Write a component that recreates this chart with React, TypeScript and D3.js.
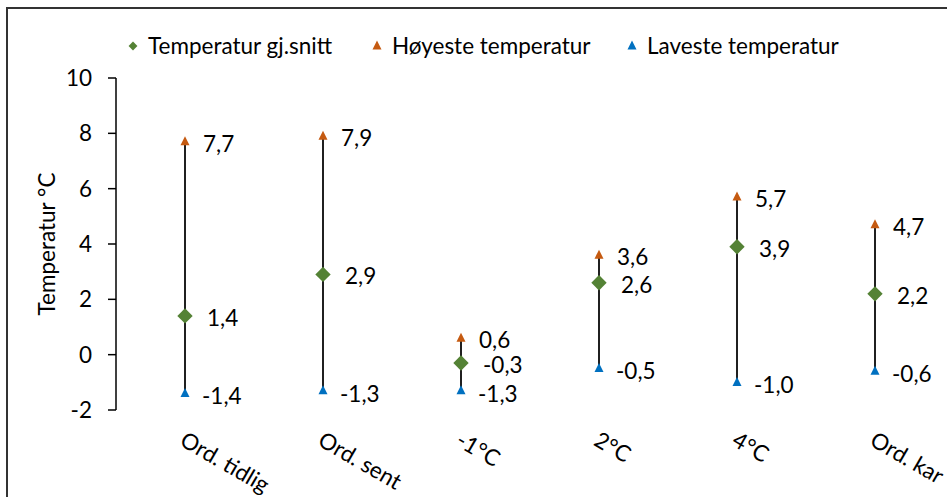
import React from "react";
import * as d3 from "d3";

const categories = ["Ord. tidlig", "Ord. sent", "-1°C", "2°C", "4°C", "Ord. kar"];
const meanTemp = [1.4, 2.9, -0.3, 2.6, 3.9, 2.2];
const maxTemp = [7.7, 7.9, 0.6, 3.6, 5.7, 4.7];
const minTemp = [-1.4, -1.3, -1.3, -0.5, -1.0, -0.6];
const yTicks = [-2, 0, 2, 4, 6, 8, 10];
const legendItems = [
  { label: "Temperatur gj.snitt", kind: "diamond", color: "#548235" },
  { label: "Høyeste temperatur", kind: "triangle", color: "#C55A11" },
  { label: "Laveste temperatur", kind: "triangle", color: "#0070C0" },
];

const W = 947;
const H = 497;
const FONT = "Lato, 'Open Sans', sans-serif";
const FS = 22.5;
const fmt = (v: number) => v.toFixed(1).replace(".", ",");

export default function App() {
  const x = d3.scaleBand<string>().domain(categories).range([116, 944]).padding(0);
  const y = d3.scaleLinear().domain([-2, 10]).range([410, 78]);
  const cx = (c: string) => (x(c) as number) + x.bandwidth() / 2;
  const diamond = d3.symbol().type(d3.symbolDiamond2).size(150)() as string;
  const tri = (s: number) => `M0,${-s * 0.6}L${s * 0.5},${s * 0.4}L${-s * 0.5},${s * 0.4}Z`;
  const legendX = [133, 377, 632];

  return (
    <svg
      width={W}
      height={H}
      style={{ position: "absolute", left: 0, top: 0, background: "#fff" }}
      fontFamily={FONT}
    >
      <rect x={0} y={0} width={W} height={H} fill="#fff" />
      <rect x={7} y={8} width={W + 20} height={H + 20} fill="none" stroke="#333" strokeWidth={2} />

      {/* legend */}
      {legendItems.map((it, i) => (
        <g key={it.label} transform={`translate(${legendX[i]},46)`}>
          {it.kind === "diamond" ? (
            <path d={d3.symbol().type(d3.symbolDiamond2).size(50)() as string} fill={it.color} />
          ) : (
            <path d={tri(9)} fill={it.color} />
          )}
          <text x={15} y={0} dy="0.35em" fontSize={FS} fill="#000">
            {it.label}
          </text>
        </g>
      ))}

      {/* y axis */}
      <line x1={116} x2={116} y1={y(10)} y2={y(-2)} stroke="#000" strokeWidth={1.5} />
      {yTicks.map((t) => (
        <g key={t}>
          <line x1={108} x2={116} y1={y(t)} y2={y(t)} stroke="#000" strokeWidth={1.5} />
          <text x={92} y={y(t)} dy="0.35em" textAnchor="end" fontSize={FS} fill="#000">
            {t}
          </text>
        </g>
      ))}
      <text
        transform={`translate(47,${(y(10) + y(-2)) / 2}) rotate(-90)`}
        textAnchor="middle"
        dy="0.35em"
        fontSize={FS}
        fill="#000"
      >
        Temperatur °C
      </text>

      {/* ranges */}
      {categories.map((c, i) => {
        const px = cx(c);
        return (
          <g key={c}>
            <line x1={px} x2={px} y1={y(minTemp[i])} y2={y(maxTemp[i])} stroke="#000" strokeWidth={1.75} />
            <path d={tri(9)} transform={`translate(${px},${y(maxTemp[i])})`} fill="#C55A11" />
            <path d={tri(9)} transform={`translate(${px},${y(minTemp[i])})`} fill="#0070C0" />
            <path d={diamond} transform={`translate(${px},${y(meanTemp[i])})`} fill="#548235" />
            <text x={px + 18} y={y(maxTemp[i]) + 2} dy="0.35em" fontSize={FS} fill="#000">
              {fmt(maxTemp[i])}
            </text>
            <text x={px + 22} y={y(meanTemp[i]) + 2} dy="0.35em" fontSize={FS} fill="#000">
              {fmt(meanTemp[i])}
            </text>
            <text x={px + 17} y={y(minTemp[i]) + 3} dy="0.35em" fontSize={FS} fill="#000">
              {fmt(minTemp[i])}
            </text>
            <text
              transform={`translate(${px + 2},${430}) rotate(30)`}
              dy="0.75em"
              fontSize={FS}
              fill="#000"
            >
              {c}
            </text>
          </g>
        );
      })}
    </svg>
  );
}
